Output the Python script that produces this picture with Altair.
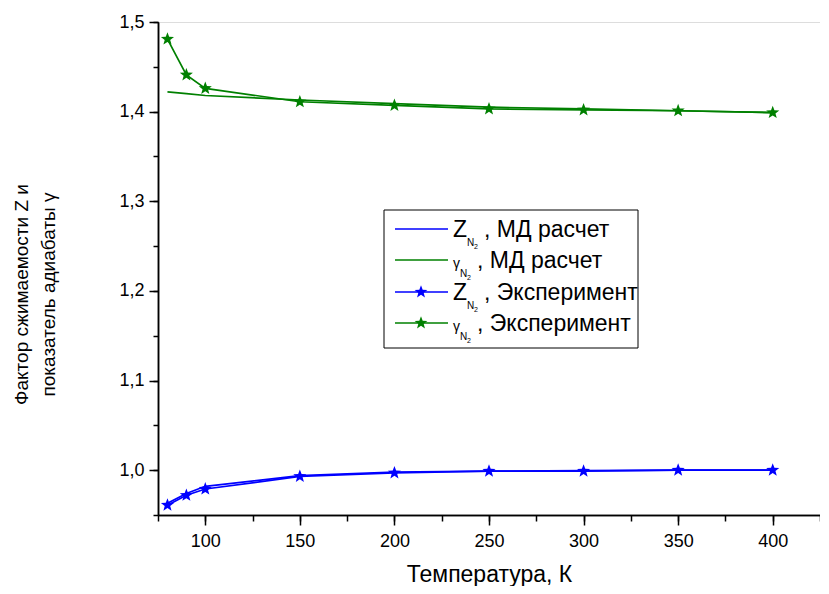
import altair as alt
import pandas as pd

# ---- data ----
T = [80, 90, 100, 150, 200, 250, 300, 350, 400]
z_md = [0.963, 0.974, 0.982, 0.994, 0.998, 0.999, 0.9995, 1.000, 1.000]
g_md = [1.422, 1.420, 1.418, 1.413, 1.409, 1.405, 1.403, 1.401, 1.399]
z_exp = [0.961, 0.972, 0.979, 0.993, 0.997, 0.999, 0.999, 1.000, 1.000]
g_exp = [1.481, 1.441, 1.426, 1.411, 1.407, 1.403, 1.402, 1.401, 1.399]

x_major = [100, 150, 200, 250, 300, 350, 400]
x_minor = [75, 100, 125, 150, 175, 200, 225, 250, 275, 300, 325, 350, 375, 400, 425]
y_major = [1.0, 1.1, 1.2, 1.3, 1.4, 1.5]
y_minor = [0.95, 1.0, 1.05, 1.1, 1.15, 1.2, 1.25, 1.3, 1.35, 1.4, 1.45, 1.5]

legend_sym = ["Z", "γ", "Z", "γ"]
legend_rest = [", МД расчет", ", МД расчет", ", Эксперимент", ", Эксперимент"]
legend_star = [False, False, True, True]

BLUE = "#0000FF"
GREEN = "#008000"
legend_color = [BLUE, GREEN, BLUE, GREEN]
FONT = "Liberation Sans"
STAR = ("M0,-1L0.247,-0.34L0.951,-0.309L0.399,0.13L0.588,0.809L0,0.42"
        "L-0.588,0.809L-0.399,0.13L-0.951,-0.309L-0.247,-0.34Z")

W, H = 662, 493

xs = alt.Scale(domain=[75, 425], nice=False, zero=False)
ys = alt.Scale(domain=[0.95, 1.5], nice=False, zero=False)

common = dict(grid=False, domainColor="black", domainWidth=1.5, tickColor="black",
              tickWidth=1.5, labelColor="black", titleColor="black",
              labelFont=FONT, titleFont=FONT)

xaxis_major = alt.Axis(values=x_major, orient="bottom", tickSize=10, title="Температура, К",
                       titleFontSize=23, titleFontWeight="normal", titlePadding=13,
                       labelFontSize=18, labelPadding=7, labelFlush=False, **common)
xaxis_minor = alt.Axis(values=x_minor, orient="bottom", tickSize=6, labels=False, title=None,
                       **common)
yaxis_major = alt.Axis(values=y_major, orient="left", tickSize=9,
                       labelExpr="replace(format(datum.value, '.1f'), '.', ',')",
                       title=["Фактор сжимаемости Z и", "показатель адиабаты γ"],
                       titleFontSize=19, titleFontWeight="normal", titlePadding=60,
                       titleLineHeight=27, titleY=272,
                       labelFontSize=18, labelPadding=5, labelFlush=False, **common)
yaxis_minor = alt.Axis(values=y_minor, orient="left", tickSize=5, labels=False, title=None,
                       **common)

df = pd.DataFrame({"T": T, "z_md": z_md, "g_md": g_md, "z_exp": z_exp, "g_exp": g_exp})
base = alt.Chart(df)


def series(col, color, star, xa=None, ya=None):
    if star:
        m = base.mark_line(color=color, strokeWidth=1.7,
                           point=alt.OverlayMarkDef(shape=STAR, size=190, filled=True,
                                                    color=color, opacity=1))
    else:
        m = base.mark_line(color=color, strokeWidth=1.7)
    return m.encode(
        x=alt.X("T:Q", scale=xs, axis=xa),
        y=alt.Y(f"{col}:Q", scale=ys, axis=ya),
    )


layers = [
    series("z_md", BLUE, False, xaxis_minor, yaxis_minor),
    series("g_md", GREEN, False, xaxis_major, yaxis_major),
    series("z_exp", BLUE, True),
    series("g_exp", GREEN, True),
]

# ---- legend ----
one = alt.Chart(pd.DataFrame({"k": [0]}))
layers.append(one.mark_rect(fill="white", stroke="black", strokeWidth=1).encode(
    x=alt.value(226), x2=alt.value(480), y=alt.value(188), y2=alt.value(326)))

row_base = [215, 246, 278, 309]
for i in range(4):
    c = legend_color[i]
    yb = row_base[i]
    layers.append(one.mark_rule(color=c, strokeWidth=1.7).encode(
        x=alt.value(237), x2=alt.value(290), y=alt.value(yb - 8)))
    if legend_star[i]:
        layers.append(one.mark_point(shape=STAR, size=180, filled=True, color=c, opacity=1).encode(
            x=alt.value(263), y=alt.value(yb - 8)))
    isz = legend_sym[i] == "Z"
    layers.append(one.mark_text(text=legend_sym[i], font=FONT, fontSize=23 if isz else 14,
                                align="left", baseline="alphabetic", color="black").encode(
        x=alt.value(295), y=alt.value(yb)))
    nx = 309 if isz else 302
    layers.append(one.mark_text(text="N", font=FONT, fontSize=10, align="left",
                                baseline="alphabetic", color="black").encode(
        x=alt.value(nx), y=alt.value(yb + 9)))
    layers.append(one.mark_text(text="2", font=FONT, fontSize=7, align="left",
                                baseline="alphabetic", color="black").encode(
        x=alt.value(nx + 7), y=alt.value(yb + 12)))
    layers.append(one.mark_text(text=legend_rest[i], font=FONT, fontSize=23, align="left",
                                baseline="alphabetic", color="black").encode(
        x=alt.value(nx + 17), y=alt.value(yb)))

chart = alt.layer(*layers).resolve_axis(x="independent", y="independent").properties(
    width=W, height=H,
    autosize=alt.AutoSizeParams(type="none"),
    padding={"left": 150, "top": 14, "right": 0, "bottom": 71},
).configure_view(stroke=None).configure(background="white")

chart.save("out.html", embed_options={"renderer": "svg", "actions": False})
